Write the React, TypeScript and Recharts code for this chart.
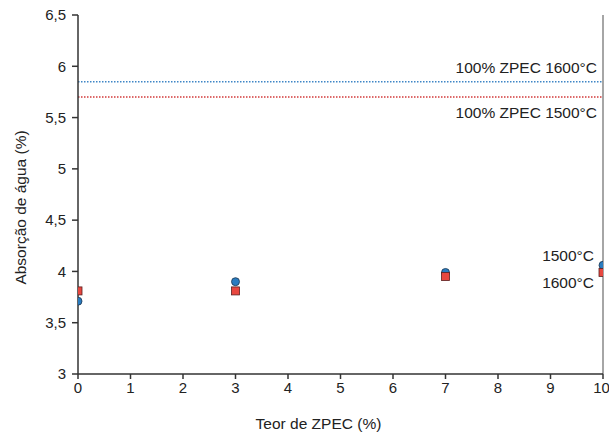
import { ScatterChart, Scatter, XAxis, YAxis, ReferenceLine, ReferenceDot, Label } from 'recharts';

const teorZpec = [0, 3, 7, 10];
const abs1500 = [3.71, 3.9, 3.99, 4.06];
const abs1600 = [3.81, 3.81, 3.95, 3.99];
const ref1600 = 5.85;
const ref1500 = 5.7;
const yTicks = [3, 3.5, 4, 4.5, 5, 5.5, 6, 6.5];
const xTicks = [0, 1, 2, 3, 4, 5, 6, 7, 8, 9, 10];

const data1500 = teorZpec.map((x, i) => ({ x, y: abs1500[i] }));
const data1600 = teorZpec.map((x, i) => ({ x, y: abs1600[i] }));

const FONT = '"Liberation Sans", Arial, sans-serif';
const AXIS = '#333';
const TEXT = '#222';
const FS = 15.5;

const Circle = (props: any) => (
  <circle cx={props.cx} cy={props.cy} r={4} fill="#2a7cc0" stroke="#1a3550" strokeWidth={0.8} />
);

const Square = (props: any) => (
  <rect x={props.cx - 4} y={props.cy - 4} width={8} height={8} fill="#e8473f" stroke="#5a2020" strokeWidth={0.8} />
);

export default function App() {
  return (
    <div style={{ position: 'absolute', left: 0, top: 0, fontFamily: FONT }}>
      <ScatterChart width={609} height={437} margin={{ top: 15, right: 6, bottom: 10, left: 10 }}>
        <XAxis
          type="number"
          dataKey="x"
          domain={[0, 10]}
          ticks={xTicks}
          allowDataOverflow
          height={53}
          stroke={AXIS}
          strokeWidth={1.5}
          tickSize={5}
          tickMargin={3}
          tick={{ fill: TEXT, fontSize: 15, fontFamily: FONT }}
        >
          <Label value="Teor de ZPEC (%)" position="insideBottom" offset={-2} dx={-22} style={{ fill: TEXT, fontSize: FS, fontFamily: FONT }} />
        </XAxis>
        <YAxis
          type="number"
          dataKey="y"
          domain={[3, 6.5]}
          ticks={yTicks}
          allowDataOverflow
          width={68}
          stroke={AXIS}
          strokeWidth={1.5}
          tickSize={6}
          tickMargin={6}
          tickFormatter={(v: number) => String(v).replace('.', ',')}
          tick={{ fill: TEXT, fontSize: 15, fontFamily: FONT }}
        >
          <Label value="Absorção de água (%)" angle={-90} position="insideLeft" offset={10} dy={13} style={{ textAnchor: 'middle', fill: TEXT, fontSize: FS, fontFamily: FONT }} />
        </YAxis>
        <ReferenceLine x={10} stroke="#888" strokeWidth={1.5} />
        <ReferenceLine y={ref1600} stroke="#3f86c6" strokeWidth={1.5} strokeDasharray="1.5 1.5">
          <Label value="100% ZPEC 1600°C" position="insideTopRight" offset={6} dy={-26} style={{ fill: TEXT, fontSize: FS, fontFamily: FONT }} />
        </ReferenceLine>
        <ReferenceLine y={ref1500} stroke="#d23a3a" strokeWidth={1.5} strokeDasharray="1.5 1.5">
          <Label value="100% ZPEC 1500°C" position="insideBottomRight" offset={6} dy={27} style={{ fill: TEXT, fontSize: FS, fontFamily: FONT }} />
        </ReferenceLine>
        <Scatter data={data1500} shape={Circle} isAnimationActive={false} />
        <Scatter data={data1600} shape={Square} isAnimationActive={false} />
        <ReferenceDot x={10} y={4.16} r={0} stroke="none" label={{ value: '1500°C', position: 'left', offset: 9, fill: TEXT, fontSize: FS, fontFamily: FONT }} />
        <ReferenceDot x={10} y={3.89} r={0} stroke="none" label={{ value: '1600°C', position: 'left', offset: 9, fill: TEXT, fontSize: FS, fontFamily: FONT }} />
      </ScatterChart>
    </div>
  );
}
